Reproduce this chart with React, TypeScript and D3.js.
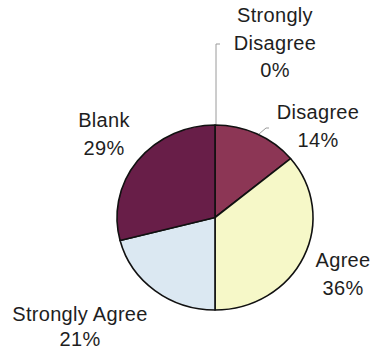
import React from "react";
import * as d3 from "d3";

const categories = ["Strongly Disagree", "Disagree", "Agree", "Strongly Agree", "Blank"];
const values = [0, 14, 36, 21, 29];
const colors = ["#7a2a4e", "#8c3655", "#f6f8c8", "#dbe8f2", "#681e48"];
const labelLines = [
  ["Strongly", "Disagree", "0%"],
  ["Disagree", "14%"],
  ["Agree", "36%"],
  ["Strongly Agree", "21%"],
  ["Blank", "29%"],
];
const labelPos: [number, number][] = [
  [275, 22],
  [318, 119],
  [343, 267],
  [80, 321],
  [104, 127],
];

export default function App() {
  const W = 373, H = 352;
  const cx = 215, cy = 217.5, rx = 98, ry = 92.5;
  const R = 100;
  const pie = d3.pie<number>().sort(null).value((d) => d)(values);
  const arc = d3.arc<d3.PieArcDatum<number>>().innerRadius(0).outerRadius(R);
  const lineH = 27.5;
  return (
    <svg width={W} height={H} style={{ position: "absolute", left: 0, top: 0, background: "#fff" }}>
      <rect width={W} height={H} fill="#fff" />
      <polyline points={`220,44 216,44 216,${cy - ry}`} fill="none" stroke="#9a9a9a" strokeWidth={1} />
      <polyline points="259,134 266,128 269,128" fill="none" stroke="#9a9a9a" strokeWidth={1} />
      <g transform={`translate(${cx},${cy}) scale(${rx / R},${ry / R})`}>
        {pie.map((p, i) =>
          p.value > 0 ? (
            <path
              key={i}
              d={arc(p) || ""}
              fill={colors[i]}
              stroke="#111"
              strokeWidth={1.6}
              vectorEffect="non-scaling-stroke"
              strokeLinejoin="round"
            />
          ) : null
        )}
      </g>
      {labelLines.map((lines, i) => (
        <text
          key={i}
          textAnchor="middle"
          fontFamily="'Liberation Sans', Arial, Helvetica, sans-serif"
          fontSize={20}
          fill="#1e1e1e"
          letterSpacing={0.3}
        >
          {lines.map((t, j) => (
            <tspan key={j} x={labelPos[i][0]} y={labelPos[i][1] + j * (i === 3 ? 25 : lineH)}>
              {t}
            </tspan>
          ))}
        </text>
      ))}
    </svg>
  );
}
